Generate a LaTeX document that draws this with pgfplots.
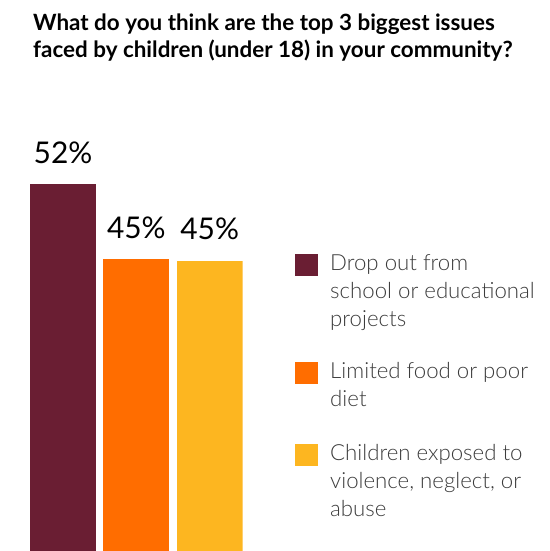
\documentclass[border=0pt]{standalone}
\usepackage{fontspec}
\setmainfont{Lato}
\newfontfamily\latolight{Lato Light}
\usepackage{pgfplots}
\pgfplotsset{compat=1.18}
\definecolor{c1}{HTML}{6A1E33}
\definecolor{c2}{HTML}{FF6D00}
\definecolor{c3}{HTML}{FDB620}
\definecolor{legtext}{HTML}{3C3C3C}
\newcommand{\legtxt}[1]{\parbox[t]{215bp}{\strut #1\strut}}
\pgfplotsset{sq/.style={legend image code/.code={\fill[##1,draw=none] (0bp,-3bp) rectangle (22.3bp,-25.5bp); \path[draw=none,fill=none] (0bp,0bp) (0bp,-#1);}}}
\begin{document}
\begin{tikzpicture}[x=1bp,y=1bp]
\path (0,0) rectangle (550,551);
\node[anchor=base west, inner sep=0, font=\bfseries\fontsize{22.5}{26}\selectfont] at (33,551-30.7) {What do you think are the top 3 biggest issues};
\node[anchor=base west, inner sep=0, font=\bfseries\fontsize{22.5}{26}\selectfont] at (33,551-57.3) {faced by children (under 18) in your community?};
\begin{axis}[
  at={(30bp,0bp)}, anchor=south west,
  scale only axis, width=212.7bp, height=454bp,
  xmin=-0.45, xmax=2.45, ymin=17.9, ymax=60.1,
  axis lines=none, xtick=\empty, ytick=\empty,
  ybar, bar width=66bp, bar shift=0pt,
  /pgf/number format/assume math mode=true,
  nodes near coords={\pgfmathprintnumber[fixed,precision=0,assume math mode=true]{\pgfplotspointmeta}\%},
  nodes near coords style={font=\fontsize{30}{30}\selectfont, text=black, anchor=base, yshift=21bp, inner sep=0},
  legend style={at={(1.246,0.6623)}, anchor=north west, draw=none, fill=none, inner sep=0, row sep=23.7bp, column sep=12.7bp,
    cells={anchor=north west},
    nodes={inner sep=0, anchor=north west, font=\latolight\fontsize{22.3}{28.2}\selectfont, text=legtext}},
]
\addplot[fill=c1, draw=none, sq=84.6bp] coordinates {(0,52)};
\addlegendentry{\legtxt{Drop out from\\school or educational\\projects}}
\addplot[fill=c2, draw=none, sq=58bp] coordinates {(1,45)};
\addlegendentry{\legtxt{Limited food or poor\\diet}}
\addplot[fill=c3, draw=none, sq=84.6bp] coordinates {(2,44.88)};
\addlegendentry{\legtxt{Children exposed to\\violence, neglect, or\\abuse}}
\end{axis}
\end{tikzpicture}
\end{document}
